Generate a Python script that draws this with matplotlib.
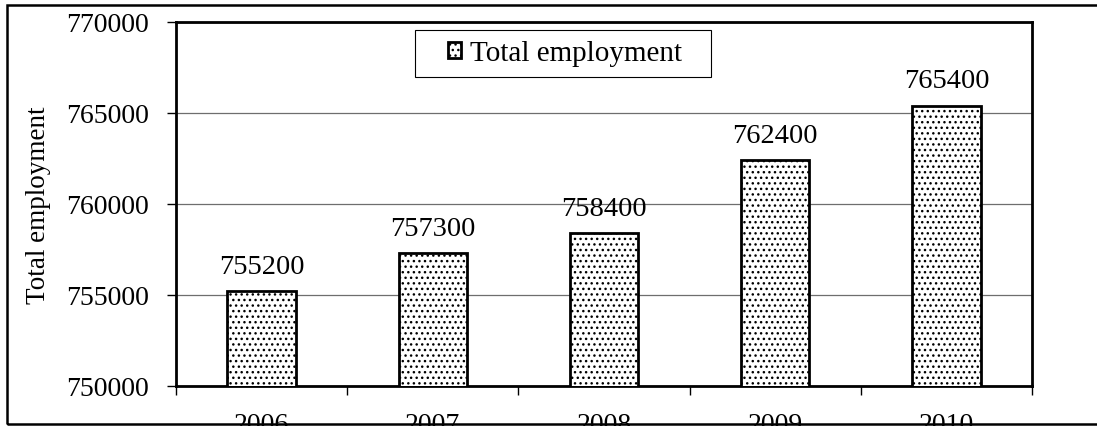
import matplotlib
matplotlib.use("Agg")
import matplotlib.pyplot as plt
from matplotlib.patches import Rectangle
import numpy as np

years = ["2006", "2007", "2008", "2009", "2010"]
employment = [755200, 757300, 758400, 762400, 765400]
series_name = "Total employment"

plt.rcParams["font.family"] = ["Liberation Serif", "DejaVu Serif"]
plt.rcParams["hatch.linewidth"] = 1.0

W, H = 1097, 427
fig = plt.figure(figsize=(W / 100, H / 100), dpi=100)
ax = fig.add_axes([176 / W, 1 - 387 / H, (1032 - 176) / W, (387 - 23) / H])

x = np.arange(len(years))
ax.bar(x, employment, width=0.4, color="white", edgecolor="black",
       linewidth=2.0, hatch="...", label=series_name, zorder=3)

for xi, v in zip(x, employment):
    ax.annotate(f"{v}", (xi, v), xytext=(0, 9), textcoords="offset points",
                ha="center", va="bottom", fontsize=20.5)

ax.set_ylim(750000, 770000)
ax.set_yticks(np.arange(750000, 770001, 5000))
ax.set_xlim(-0.5, len(years) - 0.5)
ax.set_xticks(x)
ax.set_xticklabels(years)
# ticks sit on category boundaries, labels in the middle
ax.set_xticks(np.arange(-0.5, len(years), 1.0), minor=True)
ax.tick_params(axis="x", which="major", length=0, pad=19, labelsize=20)
ax.tick_params(axis="x", which="minor", length=6.5, width=1.0, direction="out")
ax.tick_params(axis="y", length=6.5, width=1.0, labelsize=20, pad=13)
ax.yaxis.grid(True, color="#6e6e6e", linewidth=0.9, zorder=0)
ax.set_axisbelow(True)
for s in ax.spines.values():
    s.set_linewidth(2.0)

ax.set_ylabel(series_name, fontsize=19.5)
ax.yaxis.set_label_coords(-0.146, 0.5)

# legend: box drawn by hand so the padding matches
ax.add_patch(Rectangle((0.2792, 0.849), 0.6250 - 0.2792, 0.978 - 0.849,
                       transform=ax.transAxes, facecolor="white",
                       edgecolor="black", linewidth=0.8, zorder=5))
leg = ax.legend(loc="center left", bbox_to_anchor=(0.3178, 0.9135),
                borderaxespad=0, borderpad=0, frameon=False, fontsize=21,
                handlelength=0.45, handleheight=0.45, handletextpad=0.3)
leg.set_zorder(6)

frame = Rectangle((7 / W, 1 - 425 / H), 1.2, (425 - 6) / H,
                  transform=fig.transFigure, fill=False, edgecolor="black",
                  linewidth=1.8, zorder=10, clip_on=False)
fig.add_artist(frame)

fig.savefig("out.png", dpi=100)
